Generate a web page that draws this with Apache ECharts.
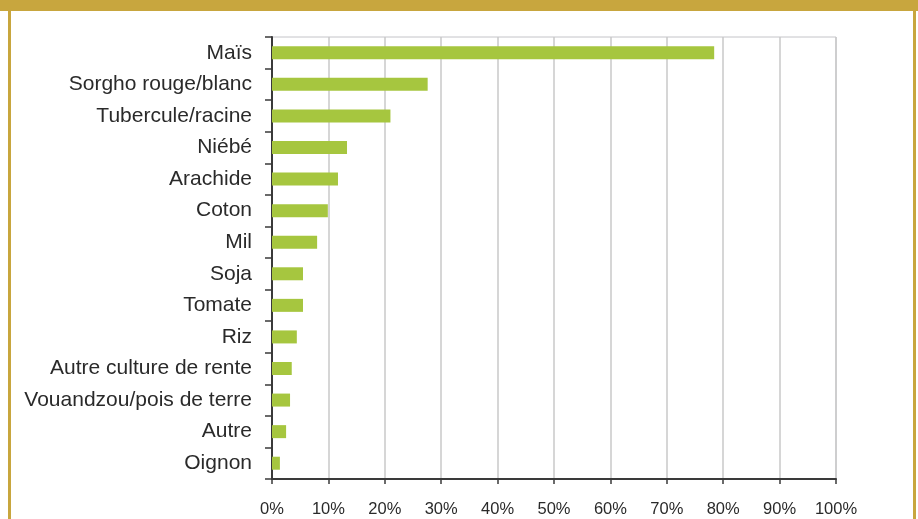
<!DOCTYPE html>
<html>
<head>
<meta charset="utf-8">
<script src="https://cdn.jsdelivr.net/npm/echarts@6/dist/echarts.min.js"></script>
<style>
  html, body { margin: 0; padding: 0; background: #fff; }
  #wrap { position: relative; width: 918px; height: 519px; overflow: hidden; }
  .gold { position: absolute; background: #c8a63e; }
  #chart { position: absolute; left: 0; top: 0; width: 918px; height: 519px; }
</style>
</head>
<body>
<div id="wrap">
  <div id="chart"></div>
  <div class="gold" style="left:0;top:0;width:918px;height:11px"></div>
  <div class="gold" style="left:8px;top:0;width:3px;height:519px"></div>
  <div class="gold" style="left:913px;top:0;width:3px;height:519px"></div>
</div>
<script>
// cultures, in the order shown top to bottom
const crops = [
  'Maïs', 'Sorgho rouge/blanc', 'Tubercule/racine', 'Niébé', 'Arachide', 'Coton', 'Mil',
  'Soja', 'Tomate', 'Riz', 'Autre culture de rente', 'Vouandzou/pois de terre', 'Autre', 'Oignon'
]
// share of households (%)
const shares = [78.4, 27.6, 21.0, 13.3, 11.7, 9.9, 8.0, 5.5, 5.5, 4.4, 3.5, 3.2, 2.5, 1.4]
const xTicks = [0, 10, 20, 30, 40, 50, 60, 70, 80, 90, 100]

const chart = echarts.init(document.getElementById('chart'))
chart.setOption({
  animation: false,
  textStyle: { fontFamily: 'Liberation Sans, Arial, sans-serif' },
  grid: { left: 272, right: 82, top: 37, bottom: 40, show: true, borderColor: '#c4c4c8', borderWidth: 1 },
  xAxis: {
    type: 'value',
    min: xTicks[0],
    max: xTicks[xTicks.length - 1],
    interval: 10,
    axisLine: { show: true, lineStyle: { color: '#3a3a3a', width: 2 } },
    axisTick: { show: true, length: 5, lineStyle: { color: '#3a3a3a', width: 1.5 } },
    axisLabel: { formatter: v => v + '%', color: '#2a2a2a', fontSize: 16.5, margin: 22 },
    splitLine: { show: true, lineStyle: { color: '#c8c8c8', width: 1.5 } }
  },
  yAxis: {
    type: 'category',
    inverse: true,
    data: crops,
    axisLine: { show: true, lineStyle: { color: '#3a3a3a', width: 2 } },
    axisTick: { show: true, length: 7, lineStyle: { color: '#3a3a3a', width: 1.5 } },
    axisLabel: { color: '#2a2a2a', fontSize: 21, margin: 20 }
  },
  series: [{
    type: 'bar',
    data: shares,
    barWidth: 13,
    itemStyle: { color: '#a6c63f' }
  }]
})
</script>
</body>
</html>
